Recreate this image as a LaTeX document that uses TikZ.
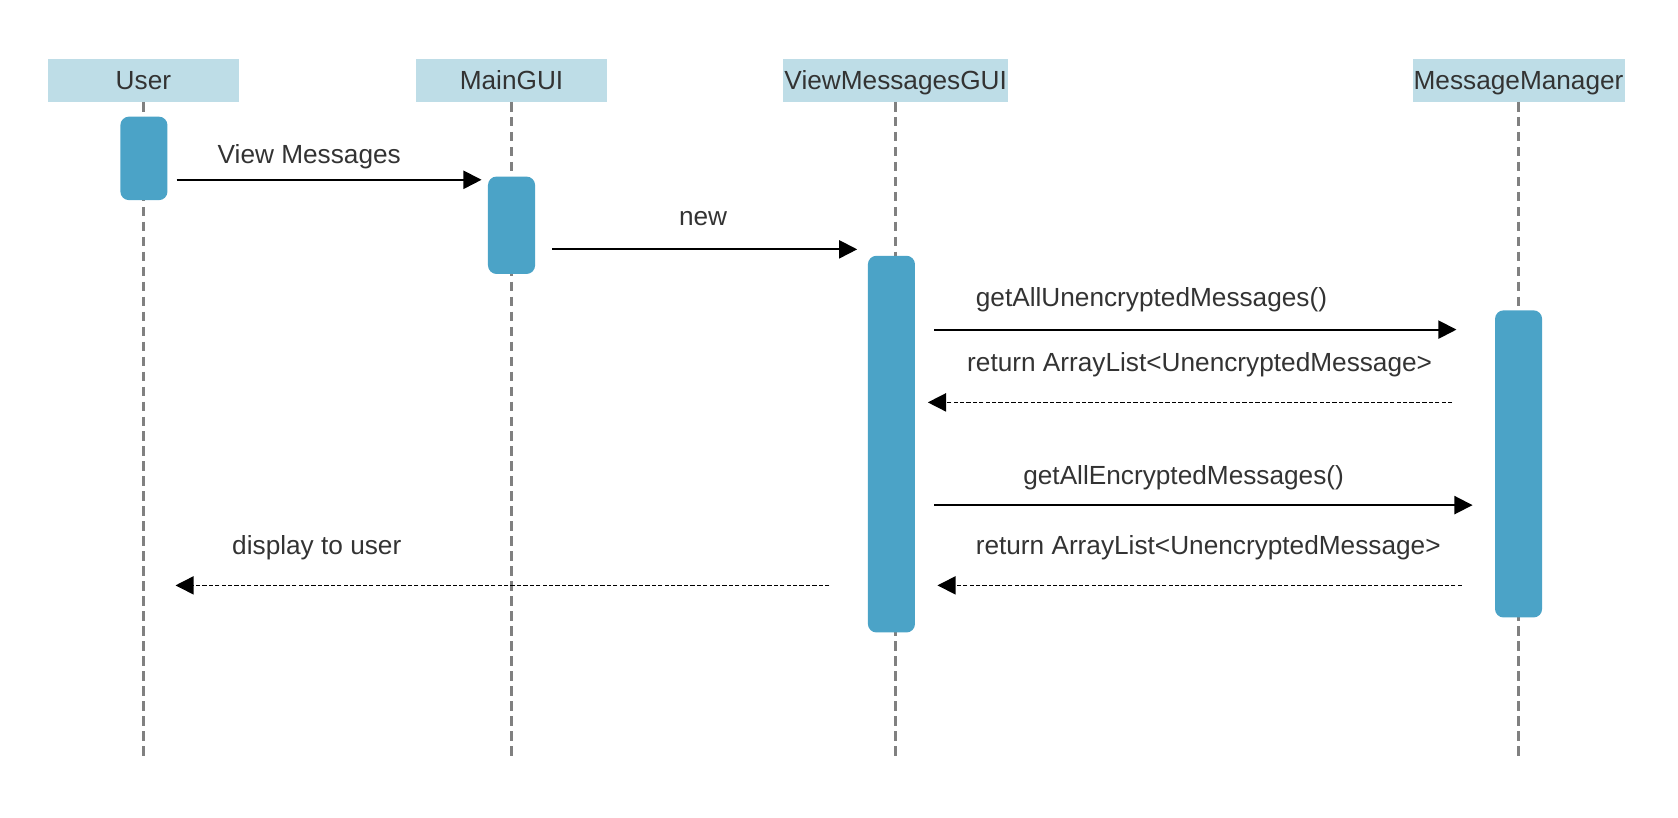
\documentclass[tikz,border=0pt]{standalone}
\usepackage{fontspec}
\setmainfont{Liberation Sans}
\usetikzlibrary{arrows.meta}
\definecolor{hdr}{RGB}{190,221,231}
\definecolor{act}{RGB}{75,163,199}
\definecolor{life}{RGB}{128,128,128}
\definecolor{txt}{RGB}{51,51,51}
\begin{document}
\begin{tikzpicture}[x=1pt,y=-1pt,
  header/.style={fill=hdr, minimum height=40pt, inner sep=0pt, text=txt, text height=19pt, text depth=2pt, font=\fontsize{24.5}{28}\selectfont},
  actbox/.style={fill=act, rounded corners=8pt, inner sep=0pt, minimum width=44pt},
  lifeline/.style={draw=life, line width=3pt, dash pattern=on 9pt off 5pt},
  msg/.style={line width=1.8pt, -{Triangle[length=17pt,width=17pt]}},
  ret/.style={line width=1.4pt, dash pattern=on 4pt off 2pt, -{Triangle[length=17pt,width=17pt]}},
  lbl/.style={text=txt, font=\fontsize{24.5}{28}\selectfont, inner sep=0pt}]
\useasboundingbox (0,0) rectangle (1568,764);
% headers
\node[header, minimum width=178pt] (hU) at (134,75) {User};
\node[header, minimum width=178pt] (hM) at (478,75) {MainGUI};
\node[header, minimum width=210pt] (hV) at (837,75) {ViewMessagesGUI};
\node[header, minimum width=198pt] (hMM) at (1419,75) {MessageManager};
% lifeline ends
\coordinate (eU) at (134,708);
\coordinate (eM) at (478,708);
\coordinate (eV) at (837,708);
\coordinate (eMM) at (1419,708);
\draw[lifeline] (hU.south) -- (eU);
\draw[lifeline] (hM.south) -- (eM);
\draw[lifeline] (hV.south) -- (eV);
\draw[lifeline] (hMM.south) -- (eMM);
% activations
\node[actbox, minimum height=78pt] (aU) at (134.5,148) {};
\node[actbox, minimum height=91pt] (aM) at (478,210.5) {};
\node[actbox, minimum height=352pt] (aV) at (833,415) {};
\node[actbox, minimum height=287pt] (aMM) at (1419,433.5) {};
% message endpoints
\coordinate (m1s) at (165,168);  \coordinate (m1e) at (450,168);
\coordinate (m2s) at (516,233);  \coordinate (m2e) at (801,233);
\coordinate (m3s) at (873,308);  \coordinate (m3e) at (1361,308);
\coordinate (r1s) at (1357,376); \coordinate (r1e) at (867,376);
\coordinate (m4s) at (873,472);  \coordinate (m4e) at (1376,472);
\coordinate (r2s) at (1366,547); \coordinate (r2e) at (876,547);
\coordinate (r3s) at (775,547);  \coordinate (r3e) at (164,547);
\draw[msg] (m1s) -- (m1e);
\draw[msg] (m2s) -- (m2e);
\draw[msg] (m3s) -- (m3e);
\draw[ret] (r1s) -- (r1e);
\draw[msg] (m4s) -- (m4e);
\draw[ret] (r2s) -- (r2e);
\draw[ret] (r3s) -- (r3e);
% labels
\node[lbl] (l1) at (289,146) {View Messages};
\node[lbl] (l2) at (657,204) {new};
\node[lbl] (l3) at (1076,280) {getAllUnencryptedMessages()};
\node[lbl] (l4) at (1121,341) {return ArrayList<UnencryptedMessage>};
\node[lbl] (l5) at (1106,446) {getAllEncryptedMessages()};
\node[lbl] (l6) at (1129,512) {return ArrayList<UnencryptedMessage>};
\node[lbl] (l7) at (296,512) {display to user};
\end{tikzpicture}
\end{document}
